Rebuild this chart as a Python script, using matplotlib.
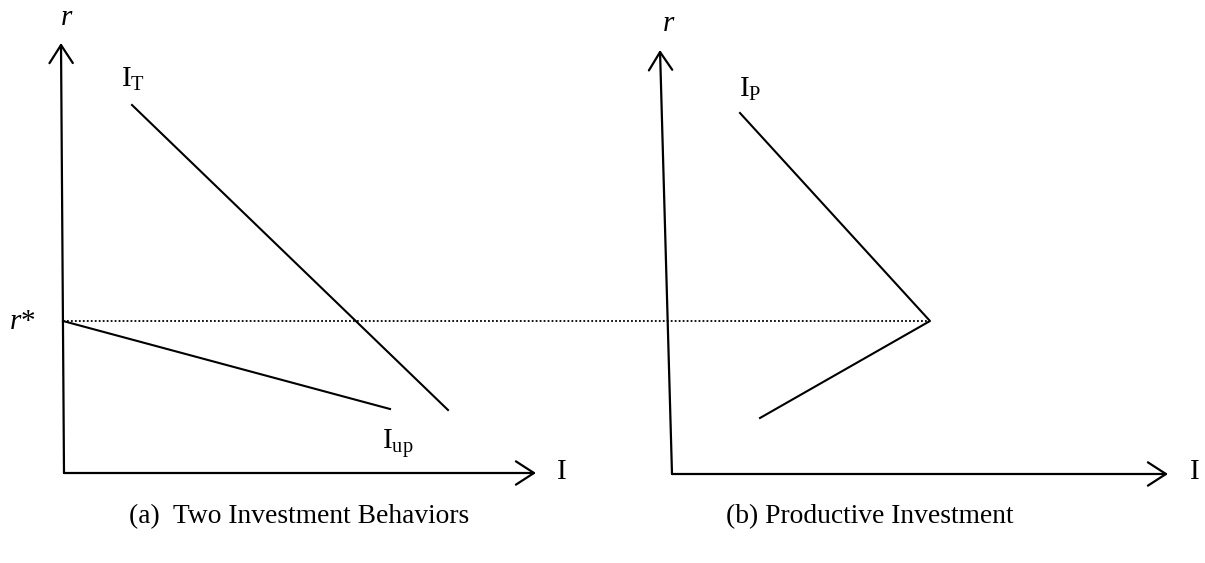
import matplotlib.pyplot as plt
from matplotlib.patches import FancyArrowPatch

plt.rcParams['font.family'] = 'Liberation Serif'
plt.rcParams['mathtext.fontset'] = 'custom'
plt.rcParams['mathtext.rm'] = 'Liberation Serif'
plt.rcParams['mathtext.it'] = 'Liberation Serif:italic'

# diagram drawn in a pixel-like frame, y grows downward
W, H = 1205, 563

# axes of the two panels: (origin, end of r-axis, end of I-axis)
left_axes = [(64, 473), (61, 43), (536, 473)]
right_axes = [(672, 474), (660, 50), (1168, 474)]

# schedules
it_x = [132, 448]
it_y = [105, 410]
iup_x = [63, 390]
iup_y = [321, 409]
ip_x = [740, 930, 760]
ip_y = [113, 321, 418]

# r* reference level
rstar_x = [63, 930]
rstar_y = [321, 321]

labels = [
    (67, 18, r'$r$'),
    (22, 322, r'$r$*'),
    (133, 79, r'$\mathrm{I}_{\mathrm{T}}$'),
    (398, 443, r'$\mathrm{I}_{\mathrm{up}}$'),
    (562, 472, 'I'),
    (669, 24, r'$r$'),
    (750, 89, r'$\mathrm{I}_{\mathrm{P}}$'),
    (1195, 472, 'I'),
]
captions = [(299, 517, '(a)  Two Investment Behaviors'),
            (870, 517, '(b) Productive Investment')]

fig = plt.figure(figsize=(W / 100, H / 100), dpi=100)
ax = fig.add_axes([0, 0, 1, 1])
ax.set_xlim(0, W)
ax.set_ylim(H, 0)
ax.axis('off')

for o, top, right in (left_axes, right_axes):
    for tip in (top, right):
        ax.add_patch(FancyArrowPatch(o, tip, arrowstyle='->,head_length=0.65,head_width=0.42',
                                     mutation_scale=20, lw=1.6, color='black',
                                     shrinkA=0, shrinkB=0))

ax.plot(rstar_x, rstar_y, color='black', lw=1.3, ls=(0, (1, 1.2)))
ax.plot(it_x, it_y, color='black', lw=1.5)
ax.plot(iup_x, iup_y, color='black', lw=1.5)
ax.plot(ip_x, ip_y, color='black', lw=1.5)

for x, y, s in labels:
    ax.text(x, y, s, fontsize=21, ha='center', va='center')
for x, y, s in captions:
    ax.text(x, y, s, fontsize=19.8, ha='center', va='center')

fig.savefig('out.png', dpi=100)
